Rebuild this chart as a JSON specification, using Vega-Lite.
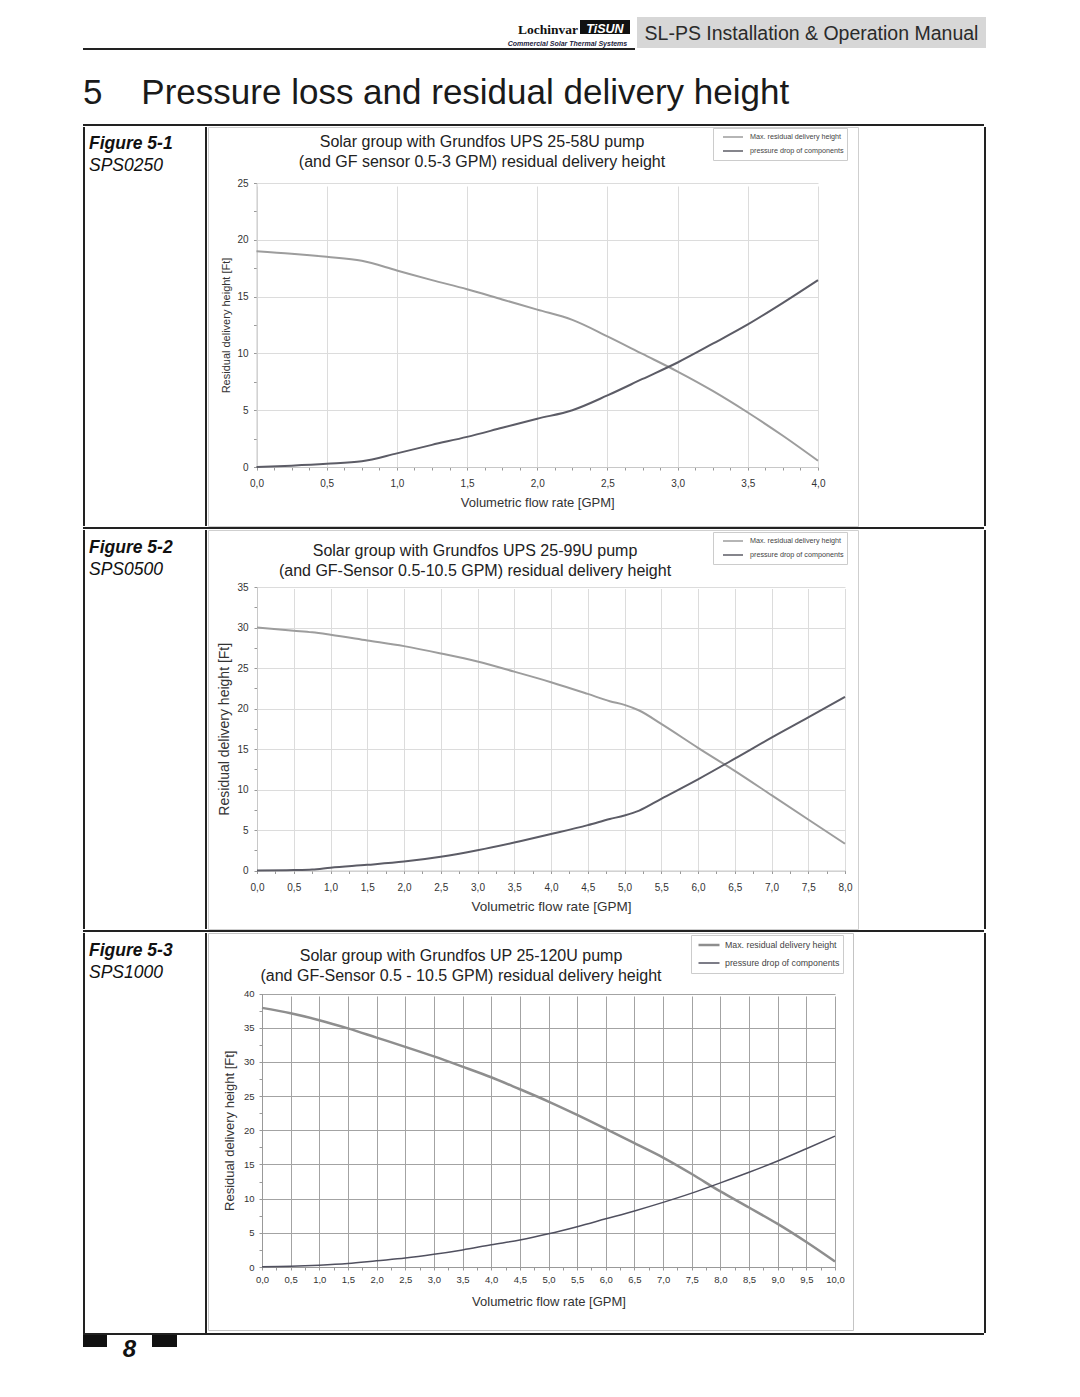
{
  "$schema": "https://vega.github.io/schema/vega-lite/v6.json",
  "background": "white",
  "padding": {"left": 83, "top": 17, "right": 10, "bottom": 10},
  "spacing": 0,
  "resolve": {"scale": {"color": "independent", "strokeWidth": "independent"}, "legend": {"color": "independent", "strokeWidth": "independent"}},
  "config": {
    "view": {"stroke": null},
    "font": "Liberation Sans",
    "title": {"font": "Liberation Sans", "subtitleFont": "Liberation Sans", "color": "#222222", "subtitleColor": "#222222", "fontWeight": "normal", "frame": "group"},
    "axis": {"labelFont": "Liberation Sans", "titleFont": "Liberation Sans", "labelColor": "#333333", "titleColor": "#333333", "titleFontWeight": "normal", "tickColor": "#999999", "tickSize": 3, "labelOverlap": false, "labelFlush": false, "labelBound": false, "domainColor": "#c8c8c8", "gridColor": "#dcdcdc"},
    "legend": {"labelFont": "Liberation Sans", "labelColor": "#444444", "symbolType": "stroke", "strokeColor": "#cccccc", "fillColor": "white"}
  },
  "datasets": {
    "c1": [
      {"x": 0, "y": 19.0, "s": "Max. residual delivery height"},
      {"x": 0.25, "y": 18.78, "s": "Max. residual delivery height"},
      {"x": 0.5, "y": 18.5, "s": "Max. residual delivery height"},
      {"x": 0.75, "y": 18.15, "s": "Max. residual delivery height"},
      {"x": 1.0, "y": 17.3, "s": "Max. residual delivery height"},
      {"x": 1.25, "y": 16.45, "s": "Max. residual delivery height"},
      {"x": 1.5, "y": 15.65, "s": "Max. residual delivery height"},
      {"x": 1.75, "y": 14.75, "s": "Max. residual delivery height"},
      {"x": 2.0, "y": 13.85, "s": "Max. residual delivery height"},
      {"x": 2.25, "y": 12.95, "s": "Max. residual delivery height"},
      {"x": 2.5, "y": 11.5, "s": "Max. residual delivery height"},
      {"x": 2.75, "y": 9.95, "s": "Max. residual delivery height"},
      {"x": 3.0, "y": 8.4, "s": "Max. residual delivery height"},
      {"x": 3.25, "y": 6.7, "s": "Max. residual delivery height"},
      {"x": 3.5, "y": 4.8, "s": "Max. residual delivery height"},
      {"x": 3.75, "y": 2.75, "s": "Max. residual delivery height"},
      {"x": 4.0, "y": 0.55, "s": "Max. residual delivery height"},
      {"x": 0, "y": 0, "s": "pressure drop of components"},
      {"x": 0.25, "y": 0.12, "s": "pressure drop of components"},
      {"x": 0.5, "y": 0.28, "s": "pressure drop of components"},
      {"x": 0.75, "y": 0.5, "s": "pressure drop of components"},
      {"x": 1.0, "y": 1.2, "s": "pressure drop of components"},
      {"x": 1.25, "y": 1.95, "s": "pressure drop of components"},
      {"x": 1.5, "y": 2.65, "s": "pressure drop of components"},
      {"x": 1.75, "y": 3.45, "s": "pressure drop of components"},
      {"x": 2.0, "y": 4.25, "s": "pressure drop of components"},
      {"x": 2.25, "y": 5.0, "s": "pressure drop of components"},
      {"x": 2.5, "y": 6.3, "s": "pressure drop of components"},
      {"x": 2.75, "y": 7.75, "s": "pressure drop of components"},
      {"x": 3.0, "y": 9.2, "s": "pressure drop of components"},
      {"x": 3.25, "y": 10.85, "s": "pressure drop of components"},
      {"x": 3.5, "y": 12.55, "s": "pressure drop of components"},
      {"x": 3.75, "y": 14.45, "s": "pressure drop of components"},
      {"x": 4.0, "y": 16.45, "s": "pressure drop of components"}
    ],
    "c2": [
      {"x": 0, "y": 30.0, "s": "Max. residual delivery height"},
      {"x": 0.5, "y": 29.6, "s": "Max. residual delivery height"},
      {"x": 0.75, "y": 29.4, "s": "Max. residual delivery height"},
      {"x": 1.0, "y": 29.1, "s": "Max. residual delivery height"},
      {"x": 1.5, "y": 28.4, "s": "Max. residual delivery height"},
      {"x": 2.0, "y": 27.7, "s": "Max. residual delivery height"},
      {"x": 2.5, "y": 26.8, "s": "Max. residual delivery height"},
      {"x": 3.0, "y": 25.8, "s": "Max. residual delivery height"},
      {"x": 3.5, "y": 24.55, "s": "Max. residual delivery height"},
      {"x": 4.0, "y": 23.25, "s": "Max. residual delivery height"},
      {"x": 4.5, "y": 21.8, "s": "Max. residual delivery height"},
      {"x": 4.8, "y": 20.9, "s": "Max. residual delivery height"},
      {"x": 5.0, "y": 20.45, "s": "Max. residual delivery height"},
      {"x": 5.2, "y": 19.75, "s": "Max. residual delivery height"},
      {"x": 5.5, "y": 18.1, "s": "Max. residual delivery height"},
      {"x": 6.0, "y": 15.15, "s": "Max. residual delivery height"},
      {"x": 6.5, "y": 12.3, "s": "Max. residual delivery height"},
      {"x": 7.0, "y": 9.3, "s": "Max. residual delivery height"},
      {"x": 7.5, "y": 6.3, "s": "Max. residual delivery height"},
      {"x": 8.0, "y": 3.3, "s": "Max. residual delivery height"},
      {"x": 0, "y": 0, "s": "pressure drop of components"},
      {"x": 0.5, "y": 0.05, "s": "pressure drop of components"},
      {"x": 0.75, "y": 0.12, "s": "pressure drop of components"},
      {"x": 1.0, "y": 0.35, "s": "pressure drop of components"},
      {"x": 1.5, "y": 0.7, "s": "pressure drop of components"},
      {"x": 2.0, "y": 1.1, "s": "pressure drop of components"},
      {"x": 2.5, "y": 1.7, "s": "pressure drop of components"},
      {"x": 3.0, "y": 2.5, "s": "pressure drop of components"},
      {"x": 3.5, "y": 3.45, "s": "pressure drop of components"},
      {"x": 4.0, "y": 4.5, "s": "pressure drop of components"},
      {"x": 4.5, "y": 5.6, "s": "pressure drop of components"},
      {"x": 4.8, "y": 6.35, "s": "pressure drop of components"},
      {"x": 5.0, "y": 6.8, "s": "pressure drop of components"},
      {"x": 5.2, "y": 7.4, "s": "pressure drop of components"},
      {"x": 5.5, "y": 8.85, "s": "pressure drop of components"},
      {"x": 6.0, "y": 11.25, "s": "pressure drop of components"},
      {"x": 6.5, "y": 13.8, "s": "pressure drop of components"},
      {"x": 7.0, "y": 16.4, "s": "pressure drop of components"},
      {"x": 7.5, "y": 18.9, "s": "pressure drop of components"},
      {"x": 8.0, "y": 21.45, "s": "pressure drop of components"}
    ],
    "c3": [
      {"x": 0, "y": 37.9, "s": "Max. residual delivery height"},
      {"x": 0.5, "y": 37.1, "s": "Max. residual delivery height"},
      {"x": 1.0, "y": 36.1, "s": "Max. residual delivery height"},
      {"x": 1.5, "y": 34.9, "s": "Max. residual delivery height"},
      {"x": 2.0, "y": 33.55, "s": "Max. residual delivery height"},
      {"x": 2.5, "y": 32.2, "s": "Max. residual delivery height"},
      {"x": 3.0, "y": 30.8, "s": "Max. residual delivery height"},
      {"x": 3.5, "y": 29.3, "s": "Max. residual delivery height"},
      {"x": 4.0, "y": 27.75, "s": "Max. residual delivery height"},
      {"x": 4.5, "y": 26.0, "s": "Max. residual delivery height"},
      {"x": 5.0, "y": 24.2, "s": "Max. residual delivery height"},
      {"x": 5.5, "y": 22.25, "s": "Max. residual delivery height"},
      {"x": 6.0, "y": 20.2, "s": "Max. residual delivery height"},
      {"x": 6.5, "y": 18.1, "s": "Max. residual delivery height"},
      {"x": 7.0, "y": 16.0, "s": "Max. residual delivery height"},
      {"x": 7.5, "y": 13.6, "s": "Max. residual delivery height"},
      {"x": 8.0, "y": 11.05, "s": "Max. residual delivery height"},
      {"x": 8.5, "y": 8.7, "s": "Max. residual delivery height"},
      {"x": 9.0, "y": 6.3, "s": "Max. residual delivery height"},
      {"x": 9.5, "y": 3.65, "s": "Max. residual delivery height"},
      {"x": 10.0, "y": 0.8, "s": "Max. residual delivery height"},
      {"x": 0, "y": 0.05, "s": "pressure drop of components"},
      {"x": 0.5, "y": 0.1, "s": "pressure drop of components"},
      {"x": 1.0, "y": 0.25, "s": "pressure drop of components"},
      {"x": 1.5, "y": 0.5, "s": "pressure drop of components"},
      {"x": 2.0, "y": 0.9, "s": "pressure drop of components"},
      {"x": 2.5, "y": 1.3, "s": "pressure drop of components"},
      {"x": 3.0, "y": 1.85, "s": "pressure drop of components"},
      {"x": 3.5, "y": 2.5, "s": "pressure drop of components"},
      {"x": 4.0, "y": 3.25, "s": "pressure drop of components"},
      {"x": 4.5, "y": 3.95, "s": "pressure drop of components"},
      {"x": 5.0, "y": 4.85, "s": "pressure drop of components"},
      {"x": 5.5, "y": 5.9, "s": "pressure drop of components"},
      {"x": 6.0, "y": 7.05, "s": "pressure drop of components"},
      {"x": 6.5, "y": 8.2, "s": "pressure drop of components"},
      {"x": 7.0, "y": 9.45, "s": "pressure drop of components"},
      {"x": 7.5, "y": 10.8, "s": "pressure drop of components"},
      {"x": 8.0, "y": 12.3, "s": "pressure drop of components"},
      {"x": 8.5, "y": 13.85, "s": "pressure drop of components"},
      {"x": 9.0, "y": 15.5, "s": "pressure drop of components"},
      {"x": 9.5, "y": 17.3, "s": "pressure drop of components"},
      {"x": 10.0, "y": 19.15, "s": "pressure drop of components"}
    ]
  },
  "vconcat": [
    {
      "hconcat": [
        {"width": 417, "height": 31, "data": {"values": [{}]}, "mark": {"type": "text", "text": "", "fontSize": 0}, "encoding": {}},
        {
          "vconcat": [
            {
              "hconcat": [
                {"width": 80, "height": 19, "title": {"text": "Lochinvar", "font": "Liberation Serif", "fontWeight": "bold", "fontSize": 13.5, "color": "#111111", "anchor": "end", "dx": -2, "offset": -19}, "data": {"values": [{}]}, "mark": {"type": "text", "text": "", "fontSize": 0}, "encoding": {}},
                {
                  "vconcat": [
                    {"width": 50, "height": 3, "data": {"values": [{}]}, "mark": {"type": "text", "text": "", "fontSize": 0}, "encoding": {}},
                    {"width": 50, "height": 14, "view": {"fill": "#111111", "stroke": null}, "title": {"text": "TiSUN", "color": "white", "fontStyle": "italic", "fontWeight": "bold", "fontSize": 12.5, "anchor": "middle", "offset": -15}, "data": {"values": [{}]}, "mark": {"type": "text", "text": "", "fontSize": 0}, "encoding": {}}
                  ],
                  "spacing": 0
                }
              ],
              "spacing": 0
            },
            {"width": 135, "height": 12, "title": {"text": "Commercial Solar Thermal Systems", "fontSize": 7, "fontStyle": "italic", "fontWeight": "bold", "color": "#1c1c3c", "anchor": "middle", "offset": -10.5}, "data": {"values": [{}]}, "mark": {"type": "text", "text": "", "fontSize": 0}, "encoding": {}}
          ],
          "spacing": 0
        },
        {"width": 2, "height": 31, "data": {"values": [{}]}, "mark": {"type": "text", "text": "", "fontSize": 0}, "encoding": {}},
        {"width": 349, "height": 31, "view": {"fill": "#d7d7d7", "stroke": null}, "title": {"text": "SL-PS Installation & Operation Manual", "fontSize": 19.5, "color": "#2a2a2a", "anchor": "middle", "offset": -27}, "data": {"values": [{}]}, "mark": {"type": "text", "text": "", "fontSize": 0}, "encoding": {}}
      ],
      "spacing": 0
    },
    {"width": 552, "height": 2, "view": {"fill": "#222222", "stroke": null}, "data": {"values": [{}]}, "mark": {"type": "text", "text": "", "fontSize": 0}, "encoding": {}},
    {"width": 901, "height": 74, "title": {"text": "5\u00a0\u00a0\u00a0\u00a0Pressure loss and residual delivery height", "fontSize": 35, "anchor": "start", "offset": -61, "color": "#1a1a1a"}, "data": {"values": [{}]}, "mark": {"type": "text", "text": "", "fontSize": 0}, "encoding": {}},
    {"width": 901, "height": 2, "view": {"fill": "#222222", "stroke": null}, "data": {"values": [{}]}, "mark": {"type": "text", "text": "", "fontSize": 0}, "encoding": {}},
    {
      "resolve": {"scale": {"color": "independent", "strokeWidth": "independent"}, "legend": {"color": "independent", "strokeWidth": "independent"}},
      "hconcat": [
        {"width": 2, "height": 399, "view": {"fill": "#222222", "stroke": null}, "data": {"values": [{}]}, "mark": {"type": "text", "text": "", "fontSize": 0}, "encoding": {}},
        {"width": 120, "height": 399, "title": {"text": "Figure 5-1", "subtitle": "SPS0250", "fontSize": 17.5, "fontStyle": "italic", "fontWeight": "bold", "color": "#111111", "subtitleFontSize": 17.5, "subtitleFontStyle": "italic", "subtitleFontWeight": "normal", "subtitleColor": "#111111", "subtitlePadding": 4.5, "anchor": "start", "dx": 4, "offset": -47}, "data": {"values": [{}]}, "mark": {"type": "text", "text": "", "fontSize": 0}, "encoding": {}},
        {"width": 2, "height": 399, "view": {"fill": "#222222", "stroke": null}, "data": {"values": [{}]}, "mark": {"type": "text", "text": "", "fontSize": 0}, "encoding": {}},
        {
          "width": 650, "height": 399,
          "view": {"stroke": "#cfcfcf"},
          "title": {"text": ["Solar group with Grundfos UPS 25-58U pump", "(and GF sensor 0.5-3 GPM) residual delivery height"], "fontSize": 16, "lineHeight": 20, "anchor": "middle", "dx": -51, "offset": -43, "color": "#222222"},
          "data": {"name": "c1"},
          "mark": {"type": "line", "interpolate": "monotone", "strokeWidth": 2},
          "encoding": {
            "x": {"field": "x", "type": "quantitative", "scale": {"domain": [0, 4], "range": [48.5, 610], "nice": false, "zero": false},
              "axis": {"title": "Volumetric flow rate [GPM]", "offset": -59, "values": [0,0.125,0.25,0.375,0.5,0.625,0.75,0.875,1,1.125,1.25,1.375,1.5,1.625,1.75,1.875,2,2.125,2.25,2.375,2.5,2.625,2.75,2.875,3,3.125,3.25,3.375,3.5,3.625,3.75,3.875,4],
                "labelExpr": "datum.value % 0.5 === 0 ? replace(format(datum.value, '.1f'), '.', ',') : ''",
                "gridOpacity": {"condition": {"test": "datum.value % 0.5 !== 0", "value": 0}, "value": 1},
                "labelFontSize": 10, "labelPadding": 8, "titleFontSize": 13, "titlePadding": 8}},
            "y": {"field": "y", "type": "quantitative", "scale": {"domain": [0, 25], "range": [340, 56], "nice": false, "zero": false},
              "axis": {"title": "Residual delivery height [Ft]", "offset": -48.5, "values": [0,2.5,5,7.5,10,12.5,15,17.5,20,22.5,25],
                "labelExpr": "datum.value % 5 === 0 ? format(datum.value, 'd') : ''",
                "gridOpacity": {"condition": {"test": "datum.value % 5 !== 0", "value": 0}, "value": 1},
                "labelFontSize": 10, "labelPadding": 5.5, "titleFontSize": 11, "titlePadding": 5}},
            "color": {"field": "s", "type": "nominal", "scale": {"domain": ["Max. residual delivery height", "pressure drop of components"], "range": ["#9d9d9d", "#5c5c66"]},
              "legend": {"title": null, "orient": "none", "legendX": 505, "legendY": 1, "labelFontSize": 7.2, "symbolSize": 400, "symbolStrokeWidth": 1.5, "clipHeight": 12, "rowPadding": 2, "padding": 3, "symbolOffset": 6, "labelOffset": 6}}
          }
        },
        {"width": 125, "height": 399, "data": {"values": [{}]}, "mark": {"type": "text", "text": "", "fontSize": 0}, "encoding": {}},
        {"width": 2, "height": 399, "view": {"fill": "#222222", "stroke": null}, "data": {"values": [{}]}, "mark": {"type": "text", "text": "", "fontSize": 0}, "encoding": {}}
      ],
      "spacing": 0
    },
    {"width": 901, "height": 2, "view": {"fill": "#222222", "stroke": null}, "data": {"values": [{}]}, "mark": {"type": "text", "text": "", "fontSize": 0}, "encoding": {}},
    {
      "resolve": {"scale": {"color": "independent", "strokeWidth": "independent"}, "legend": {"color": "independent", "strokeWidth": "independent"}},
      "hconcat": [
        {"width": 2, "height": 399, "view": {"fill": "#222222", "stroke": null}, "data": {"values": [{}]}, "mark": {"type": "text", "text": "", "fontSize": 0}, "encoding": {}},
        {"width": 120, "height": 399, "title": {"text": "Figure 5-2", "subtitle": "SPS0500", "fontSize": 17.5, "fontStyle": "italic", "fontWeight": "bold", "color": "#111111", "subtitleFontSize": 17.5, "subtitleFontStyle": "italic", "subtitleFontWeight": "normal", "subtitleColor": "#111111", "subtitlePadding": 4.5, "anchor": "start", "dx": 4, "offset": -48}, "data": {"values": [{}]}, "mark": {"type": "text", "text": "", "fontSize": 0}, "encoding": {}},
        {"width": 2, "height": 399, "view": {"fill": "#222222", "stroke": null}, "data": {"values": [{}]}, "mark": {"type": "text", "text": "", "fontSize": 0}, "encoding": {}},
        {
          "width": 650, "height": 399,
          "view": {"stroke": "#cfcfcf"},
          "title": {"text": ["Solar group with Grundfos UPS 25-99U pump", "(and GF-Sensor 0.5-10.5 GPM) residual delivery height"], "fontSize": 16, "lineHeight": 20, "anchor": "middle", "dx": -58, "offset": -49, "color": "#222222"},
          "data": {"name": "c2"},
          "mark": {"type": "line", "interpolate": "monotone", "strokeWidth": 2},
          "encoding": {
            "x": {"field": "x", "type": "quantitative", "scale": {"domain": [0, 8], "range": [49, 637], "nice": false, "zero": false},
              "axis": {"title": "Volumetric flow rate [GPM]", "offset": -58.5, "values": [0,0.25,0.5,0.75,1,1.25,1.5,1.75,2,2.25,2.5,2.75,3,3.25,3.5,3.75,4,4.25,4.5,4.75,5,5.25,5.5,5.75,6,6.25,6.5,6.75,7,7.25,7.5,7.75,8],
                "labelExpr": "datum.value % 0.5 === 0 ? replace(format(datum.value, '.1f'), '.', ',') : ''",
                "gridOpacity": {"condition": {"test": "datum.value % 0.5 !== 0", "value": 0}, "value": 1},
                "labelFontSize": 10, "labelPadding": 8.5, "titleFontSize": 13.5, "titlePadding": 7}},
            "y": {"field": "y", "type": "quantitative", "scale": {"domain": [0, 35], "range": [340.5, 57], "nice": false, "zero": false},
              "axis": {"title": "Residual delivery height [Ft]", "offset": -49, "values": [0,2.5,5,7.5,10,12.5,15,17.5,20,22.5,25,27.5,30,32.5,35],
                "labelExpr": "datum.value % 5 === 0 ? format(datum.value, 'd') : ''",
                "gridOpacity": {"condition": {"test": "datum.value % 5 !== 0", "value": 0}, "value": 1},
                "labelFontSize": 10, "labelPadding": 6, "titleFontSize": 14, "titlePadding": 5.5}},
            "color": {"field": "s", "type": "nominal", "scale": {"domain": ["Max. residual delivery height", "pressure drop of components"], "range": ["#9d9d9d", "#5c5c66"]},
              "legend": {"title": null, "orient": "none", "legendX": 505, "legendY": 2, "labelFontSize": 7.2, "symbolSize": 400, "symbolStrokeWidth": 1.5, "clipHeight": 12, "rowPadding": 2, "padding": 3, "symbolOffset": 6, "labelOffset": 6}}
          }
        },
        {"width": 125, "height": 399, "data": {"values": [{}]}, "mark": {"type": "text", "text": "", "fontSize": 0}, "encoding": {}},
        {"width": 2, "height": 399, "view": {"fill": "#222222", "stroke": null}, "data": {"values": [{}]}, "mark": {"type": "text", "text": "", "fontSize": 0}, "encoding": {}}
      ],
      "spacing": 0
    },
    {"width": 901, "height": 2, "view": {"fill": "#222222", "stroke": null}, "data": {"values": [{}]}, "mark": {"type": "text", "text": "", "fontSize": 0}, "encoding": {}},
    {
      "resolve": {"scale": {"color": "independent", "strokeWidth": "independent"}, "legend": {"color": "independent", "strokeWidth": "independent"}},
      "hconcat": [
        {"width": 2, "height": 400, "view": {"fill": "#222222", "stroke": null}, "data": {"values": [{}]}, "mark": {"type": "text", "text": "", "fontSize": 0}, "encoding": {}},
        {"width": 120, "height": 400, "title": {"text": "Figure 5-3", "subtitle": "SPS1000", "fontSize": 17.5, "fontStyle": "italic", "fontWeight": "bold", "color": "#111111", "subtitleFontSize": 17.5, "subtitleFontStyle": "italic", "subtitleFontWeight": "normal", "subtitleColor": "#111111", "subtitlePadding": 4.5, "anchor": "start", "dx": 4, "offset": -48}, "data": {"values": [{}]}, "mark": {"type": "text", "text": "", "fontSize": 0}, "encoding": {}},
        {"width": 2, "height": 400, "view": {"fill": "#222222", "stroke": null}, "data": {"values": [{}]}, "mark": {"type": "text", "text": "", "fontSize": 0}, "encoding": {}},
        {
          "width": 645, "height": 397,
          "view": {"stroke": "#c4c4c4"},
          "title": {"text": ["Solar group with Grundfos UP 25-120U pump", "(and GF-Sensor 0.5 - 10.5 GPM) residual delivery height"], "fontSize": 16, "lineHeight": 20, "anchor": "middle", "dx": -69.5, "offset": -51, "color": "#222222"},
          "data": {"name": "c3"},
          "mark": {"type": "line", "interpolate": "monotone"},
          "encoding": {
            "x": {"field": "x", "type": "quantitative", "scale": {"domain": [0, 10], "range": [54, 627], "nice": false, "zero": false},
              "axis": {"title": "Volumetric flow rate [GPM]", "offset": -63, "values": [0,0.25,0.5,0.75,1,1.25,1.5,1.75,2,2.25,2.5,2.75,3,3.25,3.5,3.75,4,4.25,4.5,4.75,5,5.25,5.5,5.75,6,6.25,6.5,6.75,7,7.25,7.5,7.75,8,8.25,8.5,8.75,9,9.25,9.5,9.75,10],
                "labelExpr": "datum.value % 0.5 === 0 ? replace(format(datum.value, '.1f'), '.', ',') : ''",
                "gridOpacity": {"condition": {"test": "datum.value % 0.5 !== 0", "value": 0}, "value": 1},
                "gridColor": "#a3a3a3", "domainColor": "#999999",
                "labelFontSize": 9.5, "labelPadding": 4, "titleFontSize": 13, "titlePadding": 12}},
            "y": {"field": "y", "type": "quantitative", "scale": {"domain": [0, 40], "range": [334, 60.5], "nice": false, "zero": false},
              "axis": {"title": "Residual delivery height [Ft]", "offset": -54, "values": [0,2.5,5,7.5,10,12.5,15,17.5,20,22.5,25,27.5,30,32.5,35,37.5,40],
                "labelExpr": "datum.value % 5 === 0 ? format(datum.value, 'd') : ''",
                "gridOpacity": {"condition": {"test": "datum.value % 5 !== 0", "value": 0}, "value": 1},
                "gridColor": "#a3a3a3", "domainColor": "#999999",
                "labelFontSize": 9.5, "labelPadding": 5, "titleFontSize": 13, "titlePadding": 6.5}},
            "color": {"field": "s", "type": "nominal", "scale": {"domain": ["Max. residual delivery height", "pressure drop of components"], "range": ["#8e8e8e", "#50505f"]},
              "legend": {"title": null, "orient": "none", "legendX": 483, "legendY": 2, "labelFontSize": 8.8, "symbolSize": 441, "symbolStrokeWidth": 1.5, "clipHeight": 14, "rowPadding": 4, "padding": 3, "symbolOffset": 3, "labelOffset": 4}},
            "strokeWidth": {"field": "s", "type": "nominal", "scale": {"domain": ["Max. residual delivery height", "pressure drop of components"], "range": [2.5, 1.5]}, "legend": null}
          }
        },
        {"width": 130, "height": 400, "data": {"values": [{}]}, "mark": {"type": "text", "text": "", "fontSize": 0}, "encoding": {}},
        {"width": 2, "height": 400, "view": {"fill": "#222222", "stroke": null}, "data": {"values": [{}]}, "mark": {"type": "text", "text": "", "fontSize": 0}, "encoding": {}}
      ],
      "spacing": 0
    },
    {"width": 901, "height": 2, "view": {"fill": "#222222", "stroke": null}, "data": {"values": [{}]}, "mark": {"type": "text", "text": "", "fontSize": 0}, "encoding": {}},
    {
      "hconcat": [
        {"width": 24, "height": 12, "view": {"fill": "#111111", "stroke": null}, "data": {"values": [{}]}, "mark": {"type": "text", "text": "", "fontSize": 0}, "encoding": {}},
        {"width": 45, "height": 12, "title": {"text": "8", "fontSize": 24, "fontStyle": "italic", "fontWeight": "bold", "color": "#111111", "anchor": "middle", "offset": -26.5}, "data": {"values": [{}]}, "mark": {"type": "text", "text": "", "fontSize": 0}, "encoding": {}},
        {"width": 25, "height": 12, "view": {"fill": "#111111", "stroke": null}, "data": {"values": [{}]}, "mark": {"type": "text", "text": "", "fontSize": 0}, "encoding": {}}
      ],
      "spacing": 0
    }
  ]
}
